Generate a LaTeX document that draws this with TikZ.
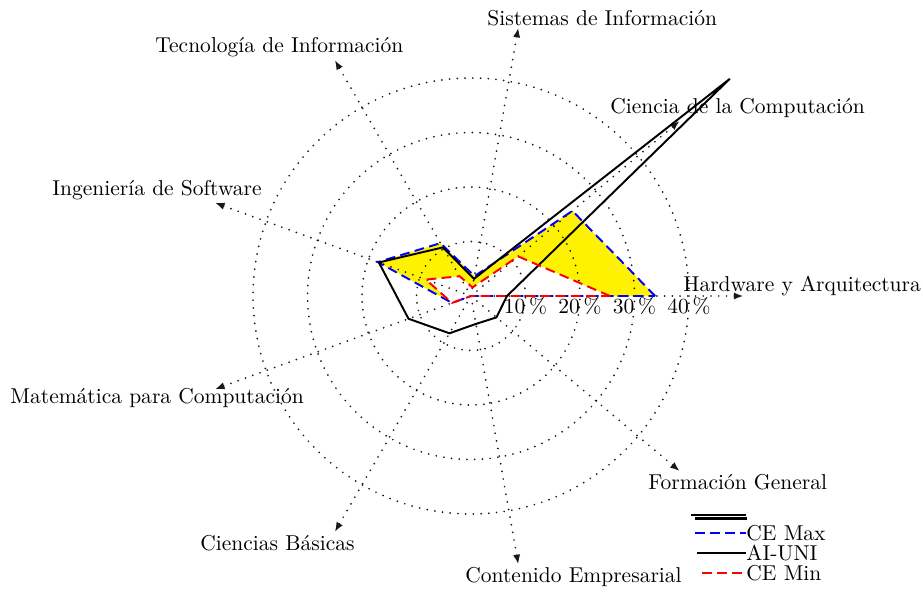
\documentclass[tikz,border=0pt]{standalone}
\usepackage{tikz}
\usetikzlibrary{arrows.meta}
\tikzset{gridline/.style = {line width=0.9pt, line cap=round, dash pattern=on 0pt off 3.6pt, black!90}}
\tikzset{axisline/.style = {gridline, -{Latex[length=4.5pt,width=3.4pt]}}}
\tikzset{lbl/.style = {anchor=west, inner sep=0}}
\tikzset{cemax/.style = {blue, line width=0.9pt, dash pattern=on 4.5pt off 2.5pt}}
\tikzset{cemin/.style = {red, line width=0.9pt, dash pattern=on 4.5pt off 2.5pt}}
\tikzset{aiuni/.style = {black, line width=0.9pt}}
\tikzset{keybar/.style = {black, line width=1.1pt}}

\begin{document}
\begin{tikzpicture}[x=0.465pt, y=-0.465pt]
  \useasboundingbox (0,0) rectangle (923,591);
  \begin{scope}[shift={(471,296)}, x=2.534pt, y=2.534pt]
    \coordinate (o) at (0,0);
    \foreach \a/\n in {0/hw,40/cc,80/si,120/ti,160/is,200/mc,240/cb,280/ce,320/fg}
      \coordinate (\n) at (\a:50);
    \fill [yellow, even odd rule]
      (0:33.8) -- (40:24.3) -- (80:3.7) -- (120:11.2) -- (160:18.2) -- (200:3.7) -- (240:0) -- (280:0) -- (320:0) -- cycle
      (0:25.5) -- (40:11.3) -- (80:1.6) -- (120:4.2) -- (160:8.8) -- (200:3.7) -- (240:0) -- (280:0) -- (320:0) -- cycle;
    \foreach \r in {10,20,30,40}
      \draw [gridline] (o) circle (\r);
    \foreach \n in {hw,cc,si,ti,is,mc,cb,ce,fg}
      \draw [axisline] (o) -- (\n);
    \foreach \r in {10,20,30,40}
      \node [anchor=north, inner sep=0.5pt] (t\r) at (0:\r) {\r\,\%};
    \draw [cemax] (0:33.8) -- (40:24.3) -- (80:3.7) -- (120:11.2) -- (160:18.2) -- (200:3.7) -- (240:0) -- (280:0) -- (320:0) -- cycle;
    \draw [aiuni] (0:6.6) -- (40:62) -- (80:3.2) -- (120:10.3) -- (160:18) -- (200:12.2) -- (240:7.9) -- (280:5.2) -- (320:6.1) -- cycle;
    \draw [cemin] (0:25.5) -- (40:11.3) -- (80:1.6) -- (120:4.2) -- (160:8.8) -- (200:3.7) -- (240:0) -- (280:0) -- (320:0) -- cycle;
  \end{scope}

  \node [lbl] (sis) at (487,18) {Sistemas de Información};
  \node [lbl] (tec) at (155,47) {Tecnología de Información};
  \node [lbl] (cie) at (610,108) {Ciencia de la Computación};
  \node [lbl] (ing) at (52,190) {Ingeniería de Software};
  \node [lbl] (har) at (683,286) {Hardware y Arquitectura};
  \node [lbl] (mat) at (10,398) {Matemática para Computación};
  \node [lbl] (for) at (648,482) {Formación General};
  \node [lbl] (cba) at (200,543) {Ciencias Básicas};
  \node [lbl] (con) at (465,577) {Contenido Empresarial};

  \coordinate (k1a) at (691,515);
  \coordinate (k1b) at (746,515);
  \coordinate (k2a) at (695,518.5);
  \coordinate (k2b) at (747,518.5);
  \draw [keybar] (k1a) -- (k1b);
  \draw [keybar] (k2a) -- (k2b);
  \node [lbl] (lmax) at (746,533) {CE Max};
  \node [lbl] (lai) at (746,553) {AI-UNI};
  \node [lbl] (lmin) at (746,573) {CE Min};
  \coordinate (kmax) at (695,533);
  \coordinate (kai) at (697,553);
  \coordinate (kmin) at (702,573);
  \draw [cemax] (kmax) -- (lmax);
  \draw [aiuni] (kai) -- (lai);
  \draw [cemin] (kmin) -- (lmin);
\end{tikzpicture}
\end{document}
